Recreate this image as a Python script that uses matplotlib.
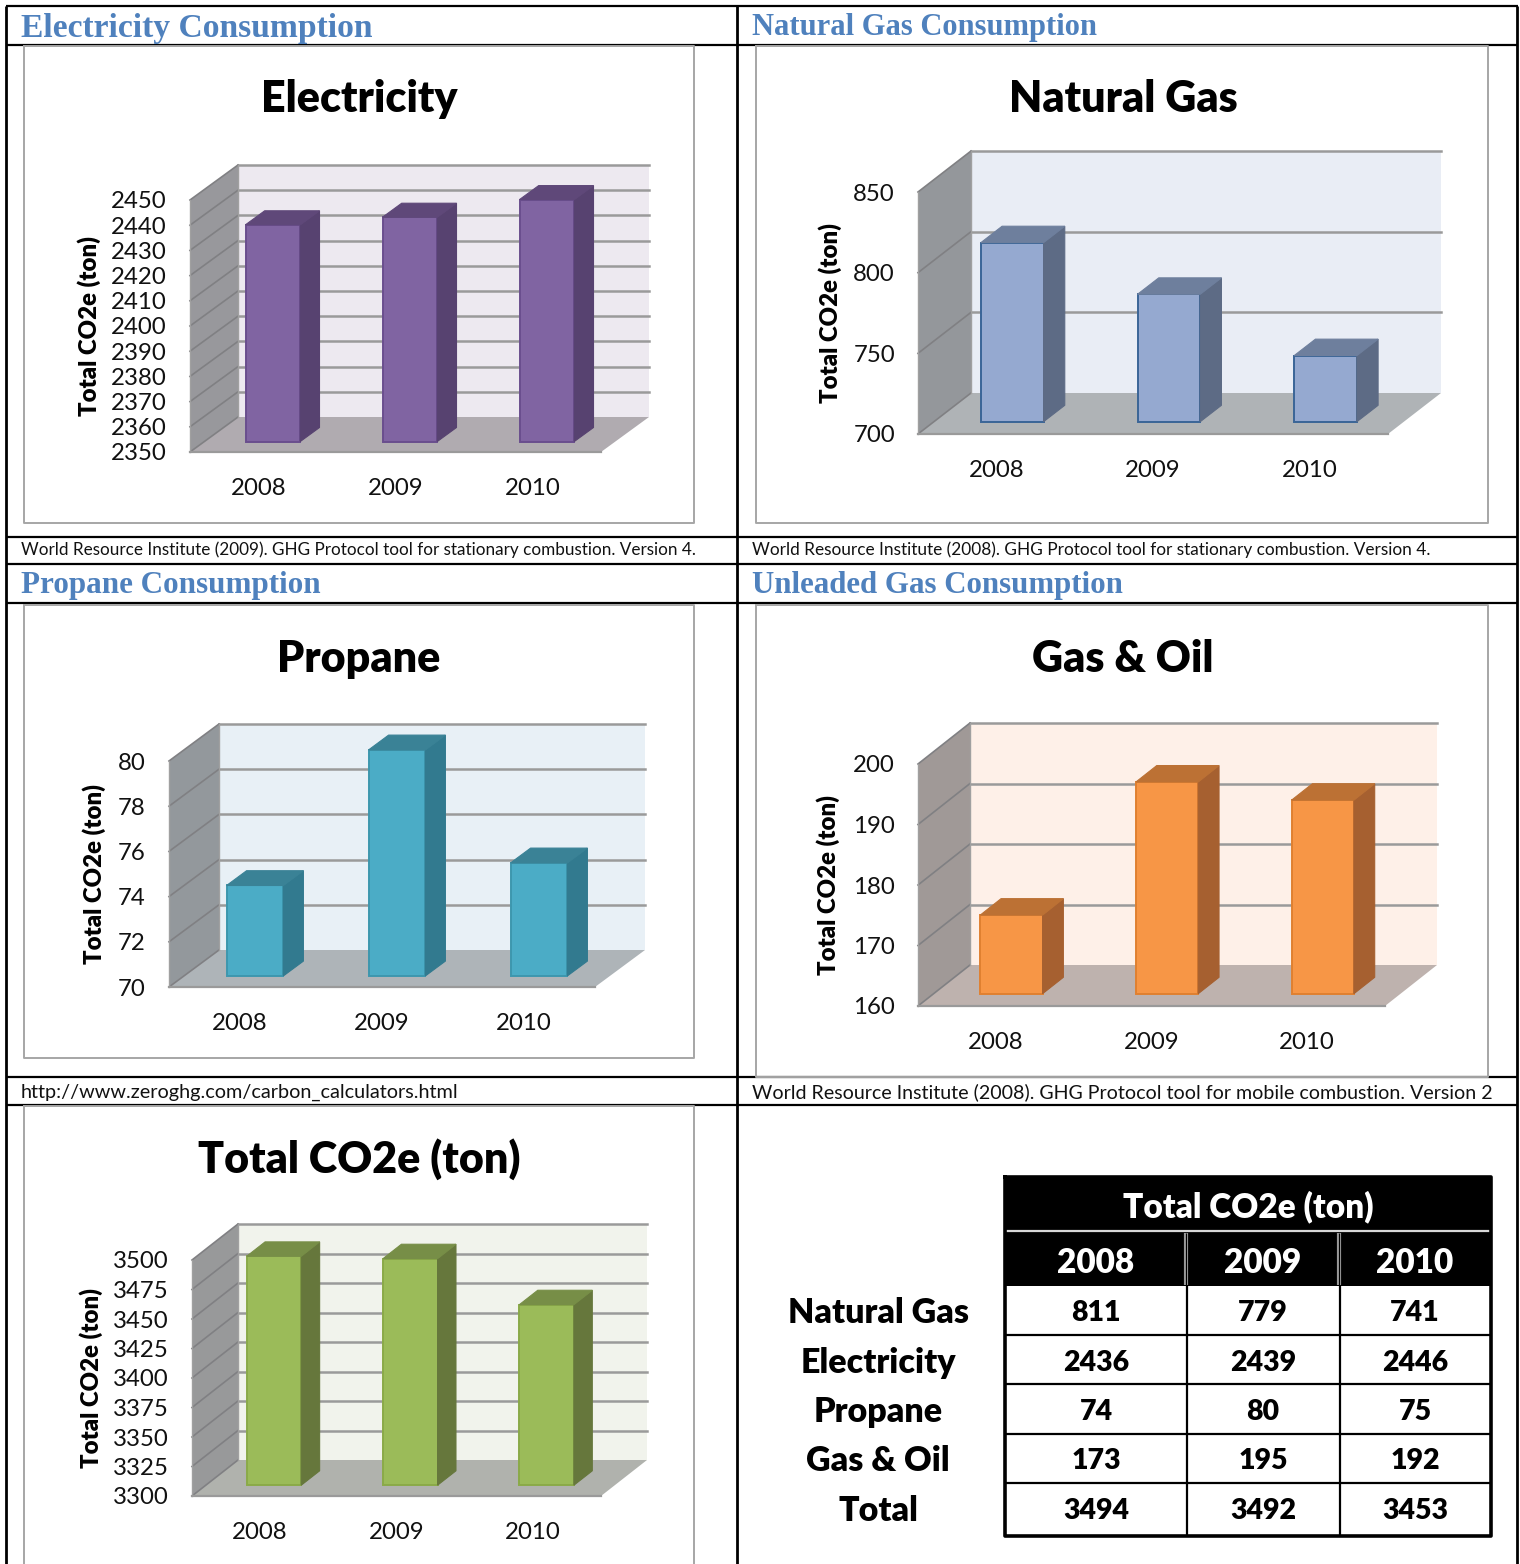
import matplotlib
matplotlib.use("Agg")
import matplotlib.pyplot as plt

W, H = 1520, 1564
plt.rcParams['font.family'] = ['Lato', 'DejaVu Sans']
HEAVY = 800

years = ['2008', '2009', '2010']
electricity = [2436, 2439, 2446]
natural_gas = [811, 779, 741]
propane = [74, 80, 75]
gas_oil = [173, 195, 192]
total = [3494, 3492, 3453]

electricity_ticks = list(range(2350, 2451, 10))
natural_gas_ticks = [700, 750, 800, 850]
propane_ticks = [70, 72, 74, 76, 78, 80]
gas_oil_ticks = [160, 170, 180, 190, 200]
total_ticks = list(range(3300, 3501, 25))

table_rows = ['Natural Gas', 'Electricity', 'Propane', 'Gas & Oil', 'Total']
table_values = [natural_gas, electricity, propane, gas_oil, total]

headings = ['Electricity Consumption', 'Natural Gas Consumption', 'Propane Consumption', 'Unleaded Gas Consumption']
sources = ['World Resource Institute (2009). GHG Protocol tool for stationary combustion. Version 4.',
           'World Resource Institute (2008). GHG Protocol tool for stationary combustion. Version 4.',
           'http://www.zeroghg.com/carbon_calculators.html',
           'World Resource Institute (2008). GHG Protocol tool for mobile combustion. Version 2']

fig = plt.figure(figsize=(W / 100, H / 100), dpi=100, facecolor='white')

# page layer in pixel coordinates, for the document table around the charts
page = fig.add_axes([0, 0, 1, 1])
page.set_xlim(0, W)
page.set_ylim(H, 0)
page.axis('off')


def hline(y, x0, x1, color='black', lw=1.4):
    page.plot([x0, x1], [y, y], color=color, lw=lw, solid_capstyle='butt')


def vline(x, y0, y1, color='black', lw=1.4):
    page.plot([x, x], [y0, y1], color=color, lw=lw, solid_capstyle='butt')


for y in [6, 45, 537, 564, 603, 1077, 1105]:
    hline(y, 6, 1518, lw=1.6)
for x in [6, 737, 1517]:
    vline(x, 6, H, lw=2.0)

# chart frames
for x0, x1, y0, y1 in [(24, 694, 46, 523), (756, 1488, 46, 523), (24, 694, 605, 1058),
                       (756, 1488, 605, 1077), (24, 694, 1106, H + 5)]:
    page.plot([x0, x1, x1, x0, x0], [y0, y0, y1, y1, y0], color='#a6a6a6', lw=1.4)

for txt, x, y, size in zip(headings, [21, 752, 21, 752], [29, 27, 586, 586], [24.2, 22.0, 22.4, 22.2]):
    page.text(x, y, txt, family='Liberation Serif', weight='bold', color='#4f81bd', fontsize=size,
              ha='left', va='center')
for txt, x, y, size in zip(sources, [21, 752, 21, 752], [550, 550, 1092, 1092], [12.3, 12.4, 14.3, 14.1]):
    page.text(x, y, txt, color='#111111', fontsize=size, ha='left', va='center')


def chart(front, depth, values, ticks, title, title_xy, label_xy, front_c, side_c, top_c, edge_c,
          back_c, floor_c, wall_c):
    left, top, right, bottom = front
    ax = fig.add_axes([left / W, 1 - bottom / H, (right - left) / W, (bottom - top) / H])
    ax.set_xlim(0, 3)
    ax.set_ylim(ticks[0], ticks[-1])
    ax.patch.set_visible(False)
    for s in ax.spines.values():
        s.set_visible(False)
    ax.set_xticks([0.5, 1.5, 2.5], years)
    ax.set_yticks(ticks)
    ax.tick_params(axis='both', length=0, labelsize=17.3, labelcolor='#111111')
    ax.tick_params(axis='x', pad=18.5)
    ax.tick_params(axis='y', pad=16.6)

    # depth of the 3d box, in data units
    dx = depth[0] * 3 / (right - left)
    dy = depth[1] * (ticks[-1] - ticks[0]) / (bottom - top)
    y0, y1 = ticks[0], ticks[-1]

    ax.fill([dx, 3 + dx, 3 + dx, dx], [y0 + dy, y0 + dy, y1 + dy, y1 + dy], color=back_c, lw=0, clip_on=False)
    ax.fill([0, dx, dx, 0], [y0, y0 + dy, y1 + dy, y1], color=wall_c, lw=0, clip_on=False)
    ax.fill([0, 3, 3 + dx, dx], [y0, y0, y0 + dy, y0 + dy], color=floor_c, lw=0, clip_on=False)
    grid = '#9a9a9a'
    for t in ticks:
        if t != y0:
            ax.plot([dx, 3 + dx], [t + dy, t + dy], color=grid, lw=1.8, clip_on=False)
        ax.plot([0, dx], [t, t + dy], color='#808083', lw=1.2, clip_on=False)
    ax.plot([0, 0], [y0, y1], color='#a0a0a0', lw=1.0, clip_on=False)
    ax.plot([dx, dx], [y0 + dy, y1 + dy], color='#a0a0a0', lw=1.0, clip_on=False)
    ax.plot([0, 3], [y0, y0], color='#9a9a9a', lw=1.6, clip_on=False)

    # bars sit between 30% and 70% of the box depth
    f0, f1 = 0.30, 0.70
    bw = 0.40
    for i, v in enumerate(values):
        xl = i + 0.5 - bw / 2 + f0 * dx
        xr = xl + bw
        base = y0 + f0 * dy
        vtop = v + f0 * dy
        sx = (f1 - f0) * dx
        sy = (f1 - f0) * dy
        ax.bar(xl + bw / 2, vtop - base, width=bw, bottom=base, color=front_c, edgecolor=edge_c, lw=1.4,
               clip_on=False, zorder=3)
        ax.fill([xr, xr + sx, xr + sx, xr], [base, base + sy, vtop + sy, vtop], facecolor=side_c,
                edgecolor=side_c, lw=0.8, clip_on=False, zorder=3)
        ax.fill([xl, xr, xr + sx, xl + sx], [vtop, vtop, vtop + sy, vtop + sy], facecolor=top_c,
                edgecolor=top_c, lw=0.8, clip_on=False, zorder=3)

    page.text(title_xy[0], title_xy[1], title, weight=HEAVY, color='black', fontsize=31, ha='center', va='center')
    page.text(label_xy[0], label_xy[1], 'Total CO2e (ton)', weight=HEAVY, color='black', fontsize=17.3,
              rotation=90, ha='center', va='center')


chart((190, 200, 601, 452), (48, 35), electricity, electricity_ticks, 'Electricity', (359, 99), (89, 326),
      '#8064a2', '#574270', '#5f4879', '#6a4e8e', '#ede9f0', '#b0abb0', '#98989c')
chart((918, 192, 1388, 434), (53, 41), natural_gas, natural_gas_ticks, 'Natural Gas', (1123, 99), (830, 313),
      '#95a9d0', '#5d6b85', '#6e7f9d', '#3a6597', '#e9edf5', '#afb3b6', '#94979b')
chart((169, 761, 595, 987), (50, 37), propane, propane_ticks, 'Propane', (359, 659), (94, 874),
      '#4bacc6', '#327a8f', '#3a8296', '#3d97ae', '#e8f0f6', '#aeb4b8', '#93989c')
chart((918, 764, 1385, 1006), (52, 41), gas_oil, gas_oil_ticks, 'Gas & Oil', (1123, 659), (828, 885),
      '#f79646', '#a66030', '#bc7134', '#e08030', '#fef0e8', '#beb2ae', '#a09997')
chart((192, 1260, 601, 1496), (46, 36), total, total_ticks, 'Total CO2e (ton)', (359, 1159), (91, 1378),
      '#9bbb59', '#66773c', '#778e47', '#8aaa48', '#f1f3ec', '#b0b2ad', '#98999a')

# summary table
col_x = [1096, 1263, 1415]
row_y = [1313, 1363, 1412, 1461, 1511]
page.fill([1005, 1491, 1491, 1005], [1177, 1177, 1286, 1286], color='black', lw=0)
hline(1231, 1006, 1490, color='#d8d8d8', lw=1.6)
for x in [1186, 1339]:
    vline(x, 1233, 1285, color='#999999', lw=3.0)
    vline(x, 1233, 1285, color='black', lw=0.8)
for y in [1335, 1384, 1434, 1483]:
    hline(y, 1005, 1491, lw=1.6)
for x in [1187, 1340]:
    vline(x, 1285, 1536, lw=1.6)
page.plot([1005, 1491, 1491, 1005, 1005], [1177, 1177, 1536, 1536, 1177], color='black', lw=2.6)
page.text(1248, 1207, 'Total CO2e (ton)', color='white', weight=HEAVY, fontsize=24, ha='center', va='center')
for x, yr in zip(col_x, years):
    page.text(x, 1263, yr, color='white', weight=HEAVY, fontsize=24, ha='center', va='center')
for y, name, vals in zip(row_y, table_rows, table_values):
    page.text(878, y, name, color='black', weight=HEAVY, fontsize=24.5, ha='center', va='center')
    for x, v in zip(col_x, vals):
        page.text(x, y, str(v), color='black', weight=HEAVY, fontsize=20.5, ha='center', va='center')

fig.savefig('out.png', dpi=100, facecolor='white')
